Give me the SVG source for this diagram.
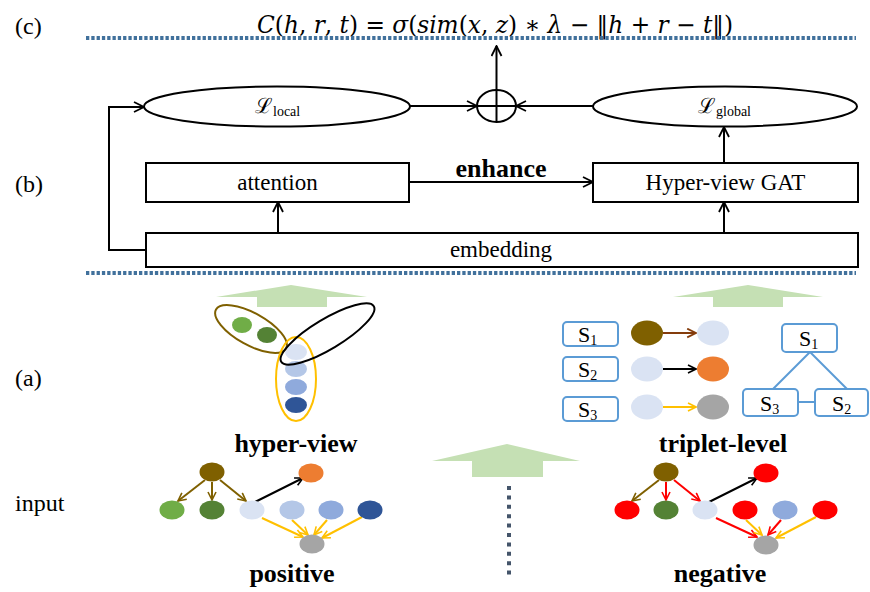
<svg xmlns="http://www.w3.org/2000/svg" width="870" height="592" viewBox="0 0 870 592">
  <style>
    .lbl { font-family: "Liberation Serif", "Times New Roman", serif; fill: #000; }
    .tag { font-size: 24px; }
    .bold { font-weight: bold; font-size: 26px; text-anchor: middle; }
    .boxtxt { font-size: 23px; text-anchor: middle; }
    .box { fill: #fff; stroke: #000; stroke-width: 2; }
    .oval { fill: #fff; stroke: #000; stroke-width: 2; }
    .conn { fill: none; stroke: #000; stroke-width: 2; }
    .sep { stroke: #41719C; stroke-width: 4; stroke-dasharray: 3.3 2; fill: none; }
    .sbox { fill: #fff; stroke: #5B9BD5; stroke-width: 2; }
    .sline { stroke: #5B9BD5; stroke-width: 2; fill: none; }
    .big { fill: #C5E0B4; }
    .math { font-family: "DejaVu Serif", "Liberation Serif", serif; }
  </style>
  <defs>
    <marker id="ah" viewBox="0 0 12 12" refX="11" refY="6" markerWidth="12" markerHeight="12" markerUnits="userSpaceOnUse" orient="auto">
      <path d="M1,1 L11,6 L1,11" fill="none" stroke="#000" stroke-width="1.8"/>
    </marker>
    <marker id="ak" viewBox="0 0 10 10" refX="9" refY="5" markerWidth="10" markerHeight="10" markerUnits="userSpaceOnUse" orient="auto">
      <path d="M1,1 L9,5 L1,9" fill="none" stroke="#000" stroke-width="1.6"/>
    </marker>
    <marker id="ab" viewBox="0 0 10 10" refX="9" refY="5" markerWidth="10" markerHeight="10" markerUnits="userSpaceOnUse" orient="auto">
      <path d="M1,1 L9,5 L1,9" fill="none" stroke="#7F6000" stroke-width="1.6"/>
    </marker>
    <marker id="ar" viewBox="0 0 10 10" refX="9" refY="5" markerWidth="10" markerHeight="10" markerUnits="userSpaceOnUse" orient="auto">
      <path d="M1,1 L9,5 L1,9" fill="none" stroke="#FF0000" stroke-width="1.6"/>
    </marker>
    <marker id="ay" viewBox="0 0 10 10" refX="9" refY="5" markerWidth="10" markerHeight="10" markerUnits="userSpaceOnUse" orient="auto">
      <path d="M1,1 L9,5 L1,9" fill="none" stroke="#FFC000" stroke-width="1.6"/>
    </marker>
    <marker id="ad" viewBox="0 0 10 10" refX="9" refY="5" markerWidth="11" markerHeight="11" markerUnits="userSpaceOnUse" orient="auto">
      <path d="M1,1 L9,5 L1,9" fill="none" stroke="#843C0C" stroke-width="1.6"/>
    </marker>
  </defs>

  <!-- section tags -->
  <text class="lbl tag" x="15" y="34">(c)</text>
  <text class="lbl tag" x="15" y="192">(b)</text>
  <text class="lbl tag" x="15" y="386">(a)</text>
  <text class="lbl tag" x="15" y="511">input</text>

  <!-- scoring function -->
  <text class="math" x="257" y="33" font-size="24" textLength="476" lengthAdjust="spacingAndGlyphs"><tspan font-style="italic">C</tspan>(<tspan font-style="italic">h</tspan>, <tspan font-style="italic">r</tspan>, <tspan font-style="italic">t</tspan>) = <tspan font-style="italic">σ</tspan>(<tspan font-style="italic">sim</tspan>(<tspan font-style="italic">x</tspan>, <tspan font-style="italic">z</tspan>) ∗ <tspan font-style="italic">λ</tspan> − ‖<tspan font-style="italic">h</tspan> + <tspan font-style="italic">r</tspan> − <tspan font-style="italic">t</tspan>‖)</text>

  <!-- separators -->
  <line class="sep" x1="86" y1="38" x2="856" y2="38"/>
  <line class="sep" x1="86" y1="273" x2="856" y2="273"/>

  <!-- loss terms and combination -->
  <g id="loss-local">
    <ellipse class="oval" cx="277" cy="106.5" rx="133" ry="20"/>
    <text class="lbl" x="255" y="113" font-size="21">ℒ<tspan font-size="14" dy="3">local</tspan></text>
  </g>
  <g id="loss-global">
    <ellipse class="oval" cx="725" cy="106.5" rx="132" ry="20"/>
    <text class="lbl" x="698" y="113" font-size="21">ℒ<tspan font-size="14" dy="3">global</tspan></text>
  </g>
  <g id="oplus">
    <ellipse class="oval" cx="496.5" cy="106" rx="19.5" ry="16"/>
    <line class="conn" x1="477" y1="106" x2="516" y2="106"/>
  </g>

  <!-- model blocks -->
  <g id="attention">
    <rect class="box" x="146" y="163" width="263" height="39"/>
    <text class="lbl boxtxt" x="277.5" y="190">attention</text>
  </g>
  <g id="gat">
    <rect class="box" x="593" y="163" width="265" height="39"/>
    <text class="lbl boxtxt" x="725.5" y="190">Hyper-view GAT</text>
  </g>
  <g id="embedding">
    <rect class="box" x="146" y="233" width="712" height="34"/>
    <text class="lbl boxtxt" x="501" y="257">embedding</text>
  </g>

  <!-- connectors -->
  <g id="connectors">
    <polyline class="conn" points="146,250 109,250 109,107 144,107" marker-end="url(#ah)"/>
    <line class="conn" x1="410" y1="106" x2="477" y2="106" marker-end="url(#ah)"/>
    <line class="conn" x1="593" y1="106" x2="516" y2="106" marker-end="url(#ah)"/>
    <line class="conn" x1="496.5" y1="122" x2="496.5" y2="46" marker-end="url(#ah)"/>
    <line class="conn" x1="724" y1="163" x2="724" y2="127" marker-end="url(#ah)"/>
    <line class="conn" x1="278" y1="233" x2="278" y2="202" marker-end="url(#ah)"/>
    <line class="conn" x1="724" y1="233" x2="724" y2="202" marker-end="url(#ah)"/>
    <line class="conn" x1="409" y1="182" x2="593" y2="182" marker-end="url(#ah)"/>
  </g>
  <text class="lbl bold" x="501" y="177">enhance</text>

  <!-- block arrows -->
  <polygon class="big" points="291,285 367,297 327,297 327,307 257,307 257,297 216,297"/>
  <polygon class="big" points="748,285 823,297 783,297 783,307 713,307 713,297 673,297"/>
  <polygon class="big" points="507,444 580,461 543,461 543,477 472,477 472,461 432,461"/>
  <line x1="509" y1="486" x2="509" y2="580" stroke="#44546A" stroke-width="4" stroke-dasharray="4 5.4"/>

  <!-- hyper-view grouping -->
  <g id="hyper-view">
    <ellipse cx="242" cy="325" rx="10" ry="8" fill="#70AD47"/>
    <ellipse cx="267" cy="335" rx="10" ry="8" fill="#548235"/>
    <ellipse cx="296" cy="352" rx="11" ry="8" fill="#DAE3F3"/>
    <ellipse cx="296" cy="369" rx="11" ry="8" fill="#B4C7E7"/>
    <ellipse cx="296" cy="387" rx="11" ry="8" fill="#8FAADC"/>
    <ellipse cx="296" cy="405" rx="11" ry="8" fill="#2F5597"/>
    <ellipse cx="251" cy="329" rx="40" ry="16" fill="none" stroke="#7F6000" stroke-width="2" transform="rotate(29 251 329)"/>
    <ellipse cx="296" cy="379" rx="20" ry="42" fill="none" stroke="#FFC000" stroke-width="2"/>
    <ellipse cx="327.5" cy="334" rx="54" ry="15" fill="none" stroke="#000" stroke-width="2" transform="rotate(-31 327.5 334)"/>
    <text class="lbl bold" x="296" y="452">hyper-view</text>
  </g>

  <!-- triplet-level views -->
  <g id="triplet-level">
    <rect class="sbox" x="563" y="322" width="55" height="24" rx="4"/>
    <rect class="sbox" x="563" y="357" width="55" height="24" rx="4"/>
    <rect class="sbox" x="563" y="397" width="55" height="24" rx="4"/>
    <text class="lbl" x="578" y="342" font-size="22">S<tspan font-size="14" dy="3">1</tspan></text>
    <text class="lbl" x="578" y="377" font-size="22">S<tspan font-size="14" dy="3">2</tspan></text>
    <text class="lbl" x="578" y="417" font-size="22">S<tspan font-size="14" dy="3">3</tspan></text>
    <ellipse cx="647" cy="333" rx="16" ry="12.5" fill="#7F6000"/>
    <ellipse cx="713" cy="333" rx="16" ry="12.5" fill="#DAE3F3"/>
    <ellipse cx="647" cy="369" rx="16" ry="12.5" fill="#DAE3F3"/>
    <ellipse cx="713" cy="369" rx="16" ry="12.5" fill="#ED7D31"/>
    <ellipse cx="647" cy="407" rx="16" ry="12.5" fill="#DAE3F3"/>
    <ellipse cx="713" cy="407" rx="16" ry="12.5" fill="#A5A5A5"/>
    <line x1="663" y1="333" x2="696" y2="333" stroke="#843C0C" stroke-width="2" marker-end="url(#ad)"/>
    <line x1="663" y1="369" x2="696" y2="369" stroke="#000" stroke-width="2" marker-end="url(#ak)"/>
    <line x1="663" y1="407" x2="696" y2="407" stroke="#FFC000" stroke-width="2" marker-end="url(#ay)"/>
    <line class="sline" x1="810" y1="352" x2="773" y2="389"/>
    <line class="sline" x1="810" y1="352" x2="847" y2="389"/>
    <line class="sline" x1="798" y1="402" x2="815" y2="402"/>
    <rect class="sbox" x="782" y="324" width="55" height="28" rx="4"/>
    <rect class="sbox" x="743" y="389" width="55" height="27" rx="4"/>
    <rect class="sbox" x="815" y="389" width="53" height="27" rx="4"/>
    <text class="lbl" x="799" y="346" font-size="22">S<tspan font-size="14" dy="3">1</tspan></text>
    <text class="lbl" x="760" y="411" font-size="22">S<tspan font-size="14" dy="3">3</tspan></text>
    <text class="lbl" x="832" y="411" font-size="22">S<tspan font-size="14" dy="3">2</tspan></text>
    <text class="lbl bold" x="723" y="452">triplet-level</text>
  </g>

  <!-- positive input graph -->
  <g id="positive">
    <line x1="205" y1="480" x2="178" y2="501" stroke="#7F6000" stroke-width="2" marker-end="url(#ab)"/>
    <line x1="212" y1="482" x2="212" y2="500" stroke="#7F6000" stroke-width="2" marker-end="url(#ab)"/>
    <line x1="220" y1="480" x2="246" y2="501" stroke="#7F6000" stroke-width="2" marker-end="url(#ab)"/>
    <line x1="255" y1="502" x2="303" y2="478" stroke="#000" stroke-width="2" marker-end="url(#ak)"/>
    <line x1="262" y1="518" x2="303" y2="537" stroke="#FFC000" stroke-width="2" marker-end="url(#ay)"/>
    <line x1="292" y1="520" x2="308" y2="535" stroke="#FFC000" stroke-width="2" marker-end="url(#ay)"/>
    <line x1="327" y1="520" x2="314" y2="535" stroke="#FFC000" stroke-width="2" marker-end="url(#ay)"/>
    <line x1="362" y1="517" x2="322" y2="538" stroke="#FFC000" stroke-width="2" marker-end="url(#ay)"/>
    <ellipse cx="212" cy="472" rx="12.5" ry="9.5" fill="#7F6000"/>
    <ellipse cx="311" cy="473" rx="12.5" ry="9.5" fill="#ED7D31"/>
    <ellipse cx="172" cy="510" rx="12.5" ry="9.5" fill="#70AD47"/>
    <ellipse cx="212" cy="510" rx="12.5" ry="9.5" fill="#548235"/>
    <ellipse cx="252" cy="510" rx="12.5" ry="9.5" fill="#DAE3F3"/>
    <ellipse cx="292" cy="510" rx="12.5" ry="9.5" fill="#B4C7E7"/>
    <ellipse cx="331" cy="510" rx="12.5" ry="9.5" fill="#8FAADC"/>
    <ellipse cx="370" cy="510" rx="12.5" ry="9.5" fill="#2F5597"/>
    <ellipse cx="312" cy="544" rx="12.5" ry="9.5" fill="#A5A5A5"/>
    <text class="lbl bold" x="292" y="582">positive</text>
  </g>

  <!-- negative input graph -->
  <g id="negative">
    <line x1="659" y1="480" x2="632" y2="501" stroke="#7F6000" stroke-width="2" marker-end="url(#ab)"/>
    <line x1="666" y1="482" x2="666" y2="500" stroke="#FF0000" stroke-width="2" marker-end="url(#ar)"/>
    <line x1="674" y1="480" x2="700" y2="501" stroke="#FF0000" stroke-width="2" marker-end="url(#ar)"/>
    <line x1="709" y1="502" x2="757" y2="478" stroke="#000" stroke-width="2" marker-end="url(#ak)"/>
    <line x1="716" y1="518" x2="757" y2="537" stroke="#FF0000" stroke-width="2" marker-end="url(#ar)"/>
    <line x1="746" y1="520" x2="762" y2="535" stroke="#FFC000" stroke-width="2" marker-end="url(#ay)"/>
    <line x1="781" y1="520" x2="768" y2="535" stroke="#FF0000" stroke-width="2" marker-end="url(#ar)"/>
    <line x1="816" y1="517" x2="776" y2="538" stroke="#FFC000" stroke-width="2" marker-end="url(#ay)"/>
    <ellipse cx="666" cy="472" rx="12.5" ry="9.5" fill="#7F6000"/>
    <ellipse cx="766" cy="473" rx="12.5" ry="9.5" fill="#FF0000"/>
    <ellipse cx="627" cy="510" rx="12.5" ry="9.5" fill="#FF0000"/>
    <ellipse cx="666" cy="510" rx="12.5" ry="9.5" fill="#548235"/>
    <ellipse cx="705" cy="510" rx="12.5" ry="9.5" fill="#DAE3F3"/>
    <ellipse cx="745" cy="510" rx="12.5" ry="9.5" fill="#FF0000"/>
    <ellipse cx="785" cy="510" rx="12.5" ry="9.5" fill="#8FAADC"/>
    <ellipse cx="825" cy="510" rx="12.5" ry="9.5" fill="#FF0000"/>
    <ellipse cx="766" cy="545" rx="12.5" ry="9.5" fill="#A5A5A5"/>
    <text class="lbl bold" x="720" y="582">negative</text>
  </g>
</svg>
